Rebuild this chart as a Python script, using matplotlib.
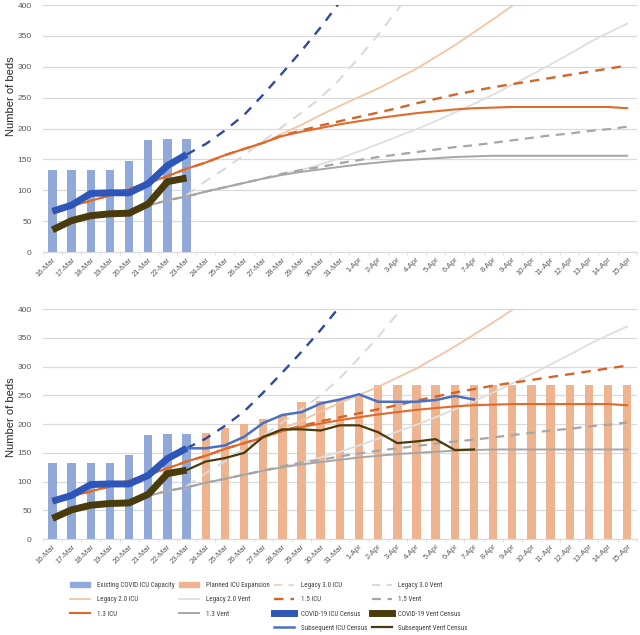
import matplotlib
matplotlib.use('Agg')
import matplotlib.pyplot as plt
from matplotlib import font_manager
from matplotlib.lines import Line2D
from matplotlib.patches import Patch
import numpy as np

plt.rcParams['font.family'] = ['Liberation Sans', 'DejaVu Sans']

# pick a narrow face for the legend if one is installed
installed = {f.name for f in font_manager.fontManager.ttflist}
narrow = 'Liberation Sans'
for name in ['Liberation Sans Narrow', 'DejaVu Sans Condensed', 'Roboto Condensed',
             'Open Sans Condensed', 'Noto Sans Condensed']:
    if name in installed:
        narrow = name
        break

days = ['16-Mar', '17-Mar', '18-Mar', '19-Mar', '20-Mar', '21-Mar', '22-Mar', '23-Mar',
        '24-Mar', '25-Mar', '26-Mar', '27-Mar', '28-Mar', '29-Mar', '30-Mar', '31-Mar',
        '1-Apr', '2-Apr', '3-Apr', '4-Apr', '5-Apr', '6-Apr', '7-Apr', '8-Apr', '9-Apr',
        '10-Apr', '11-Apr', '12-Apr', '13-Apr', '14-Apr', '15-Apr']

# bars
existing_icu = [133, 133, 133, 133, 147, 182, 183, 183]              # 16-Mar .. 23-Mar
planned_icu = [184, 193, 200, 209, 216, 238, 240, 242, 250] + [268] * 14   # 24-Mar .. 15-Apr

# census (observed)
icu_census = [66, 76, 95, 96, 96, 111, 140, 158]                    # 16-Mar .. 23-Mar
vent_census = [36, 51, 59, 62, 63, 78, 114, 120]
sub_icu_census = [158, 158, 163, 178, 202, 216, 221, 236, 243, 252, 239, 239, 239, 242, 249, 243]   # 23-Mar .. 7-Apr
sub_vent_census = [120, 135, 141, 150, 178, 191, 191, 189, 198, 198, 186, 167, 170, 174, 155, 156]

# projections (16-Mar .. 15-Apr unless noted)
icu_13 = [66, 75, 83, 92, 102, 112, 123, 135, 145, 157, 167, 177, 188, 195, 201, 207,
          212, 217, 221, 225, 228, 231, 233, 234, 235, 235, 235, 235, 235, 235, 233]
icu_15 = icu_13[:12] + [189, 197, 205, 212, 219, 226, 233, 241, 248, 255, 261, 267,
                        272, 277, 282, 287, 292, 297, 302]
legacy2_icu = icu_13[:12] + [192, 206, 222, 237, 251, 265, 281, 297, 316, 335, 356,
                             377, 399, 421]
vent_13 = [36, 48, 57, 62, 67, 75, 84, 90, 98, 105, 112, 119, 125, 130, 134, 138,
           142, 145, 148, 150, 152, 154, 155, 156, 156, 156, 156, 156, 156, 156, 156]
vent_15 = vent_13[:12] + [127, 133, 138, 144, 149, 154, 158, 162, 166, 170, 173, 177,
                          181, 185, 189, 192, 196, 199, 203]
legacy2_vent = vent_13[:12] + [126, 133, 142, 152, 163, 175, 187, 199, 212, 226, 240,
                               255, 271, 287, 304, 321, 339, 355, 370]
legacy3_icu = [158, 175, 197, 222, 255, 290, 326, 364, 405]         # 23-Mar .. 31-Mar
legacy3_vent = [92, 115, 135, 157, 180, 203, 226, 250, 280, 315, 352, 392, 435]   # 23-Mar .. 4-Apr

C_EXIST = '#91a9d8'
C_PLAN = '#eeb48f'
C_ICU13 = '#e06a2c'
C_ICU15 = '#d4652a'
C_LEG2ICU = '#f5c4a3'
C_LEG2VENT = '#dedede'
C_LEG3ICU = '#2f4a9a'
C_LEG3VENT = '#dadada'
C_VENT = '#a6a6a6'
C_ICUCEN = '#2e55b8'
C_VENTCEN = '#4a3b0c'
C_SUBICU = '#4a70c6'


def draw_panel(ax, second, label_y):
    x = np.arange(len(days))
    ax.bar(x[:8], existing_icu, width=0.44, color=C_EXIST, zorder=2)
    if second:
        ax.bar(x[8:], planned_icu, width=0.44, color=C_PLAN, zorder=2)

    ax.plot(x[:len(legacy2_vent)], legacy2_vent, color=C_LEG2VENT, lw=1.3, zorder=3)
    ax.plot(x[7:7 + len(legacy3_vent)], legacy3_vent, color=C_LEG3VENT, lw=1.5,
            dashes=(5, 4), zorder=3)
    ax.plot(x[:len(legacy2_icu)], legacy2_icu, color=C_LEG2ICU, lw=1.3, zorder=3)
    ax.plot(x, vent_15, color=C_VENT, lw=1.6, dashes=(4, 3), zorder=3)
    ax.plot(x, vent_13, color=C_VENT, lw=1.4, zorder=3)
    ax.plot(x, icu_15, color=C_ICU15, lw=1.7, dashes=(4, 3), zorder=3)
    ax.plot(x, icu_13, color=C_ICU13, lw=1.5, zorder=3)
    ax.plot(x[7:7 + len(legacy3_icu)], legacy3_icu, color=C_LEG3ICU, lw=1.7,
            dashes=(4, 3.5), zorder=3)

    if second:
        ax.plot(x[7:7 + len(sub_icu_census)], sub_icu_census, color=C_SUBICU, lw=1.8, zorder=4)
        ax.plot(x[7:7 + len(sub_vent_census)], sub_vent_census, color=C_VENTCEN, lw=1.6, zorder=4)
    ax.plot(x[:8], icu_census, color=C_ICUCEN, lw=5, solid_capstyle='butt', zorder=5)
    ax.plot(x[:8], vent_census, color=C_VENTCEN, lw=5, solid_capstyle='butt', zorder=5)

    ax.set_xlim(-0.5, len(days) - 0.5)
    ax.set_ylim(0, 400)
    ax.set_yticks(range(0, 401, 50))
    ax.yaxis.grid(True, color='#d9d9d9', lw=0.9, zorder=0)
    ax.set_axisbelow(True)
    for s in ['top', 'right', 'left']:
        ax.spines[s].set_visible(False)
    ax.spines['bottom'].set_color('#d9d9d9')
    ax.set_xticks(x)
    ax.set_xticklabels(days, rotation=45, ha='right', rotation_mode='anchor',
                       fontsize=5.5, color='#595959')
    ax.set_xticks(np.arange(-0.5, len(days), 1), minor=True)
    ax.tick_params(axis='x', which='major', length=0, pad=3)
    ax.tick_params(axis='x', which='minor', length=2.5, color='#d9d9d9')
    ax.tick_params(axis='y', length=0, labelsize=6, labelcolor='#595959', pad=8)
    ax.set_ylabel('Number of beds', fontsize=8, color='#262626')
    ax.yaxis.set_label_coords(-0.046, label_y)


fig = plt.figure(figsize=(6.4, 6.35), dpi=100)
ax1 = fig.add_axes([0.067, 0.603, 0.928, 0.389])
ax2 = fig.add_axes([0.067, 0.151, 0.928, 0.362])
draw_panel(ax1, False, 0.63)
draw_panel(ax2, True, 0.53)

blank = Line2D([], [], color='none')
handles = [
    Patch(color=C_EXIST), Line2D([], [], color=C_LEG2ICU, lw=1.3),
    Line2D([], [], color=C_ICU13, lw=1.5), blank,
    Patch(color=C_PLAN), Line2D([], [], color=C_LEG2VENT, lw=1.3),
    Line2D([], [], color=C_VENT, lw=1.4), blank,
    Line2D([], [], color='#e8d9cc', lw=1.5, dashes=(4, 3)), Line2D([], [], color=C_ICU15, lw=1.7, dashes=(4, 3)),
    Line2D([], [], color=C_ICUCEN, lw=5), Line2D([], [], color=C_SUBICU, lw=1.8),
    Line2D([], [], color=C_LEG3VENT, lw=1.5, dashes=(4, 3)), Line2D([], [], color=C_VENT, lw=1.6, dashes=(4, 3)),
    Line2D([], [], color=C_VENTCEN, lw=5), Line2D([], [], color=C_VENTCEN, lw=1.6),
]
labels = [
    'Existing COVID ICU Capacity', 'Legacy 2.0 ICU', '1.3 ICU', '',
    'Planned ICU Expansion', 'Legacy 2.0 Vent', '1.3 Vent', '',
    'Legacy 3.0 ICU', '1.5 ICU', 'COVID-19 ICU Census', 'Subsequent ICU Census',
    'Legacy 3.0 Vent', '1.5 Vent', 'COVID-19 Vent Census', 'Subsequent Vent Census',
]
fig.legend(handles, labels, ncol=4, loc='lower left', bbox_to_anchor=(0.1, -0.005),
           frameon=False, prop={'family': narrow, 'size': 5.0}, handlelength=2.9,
           handletextpad=0.9, columnspacing=0.7, labelspacing=1.05, labelcolor='#404040')

fig.savefig('out.png', dpi=100)
